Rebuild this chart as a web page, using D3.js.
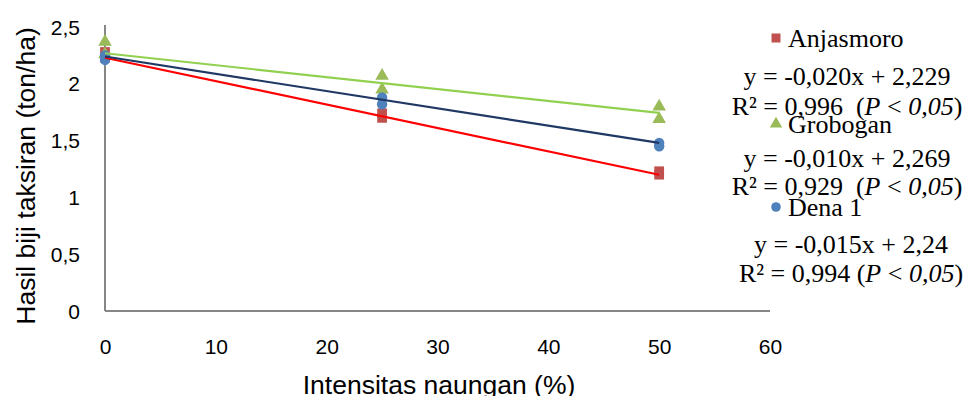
<!DOCTYPE html>
<html><head><meta charset="utf-8">
<script src="https://cdn.jsdelivr.net/npm/d3@7"></script>
<style>
body{margin:0;background:#fff;}
svg{display:block;}
text{white-space:pre;}
</style></head>
<body><svg id="c" width="970" height="396"></svg>
<script>
// ---- data ----
const seriesNames = ["Anjasmoro", "Grobogan", "Dena 1"];
const xAnjasmoro = [0, 0, 25, 25, 50, 50];
const yAnjasmoro = [2.28, 2.23, 1.74, 1.70, 1.23, 1.20];
const xGrobogan = [0, 0, 25, 25, 50, 50];
const yGrobogan = [2.37, 2.26, 2.07, 1.95, 1.80, 1.69];
const xDena = [0, 0, 25, 25, 50, 50];
const yDena = [2.25, 2.21, 1.88, 1.82, 1.48, 1.45];
// fitted trendlines (unrounded slopes as drawn; labels show rounded values)
const slopes = [-0.0206, -0.0105, -0.0152];
const intercepts = [2.229, 2.269, 2.24];
const eqLabels = ["y = -0,020x + 2,229", "y = -0,010x + 2,269", "y = -0,015x + 2,24"];
const r2Labels = ["0,996", "0,929", "0,994"];
const xTicks = [0, 10, 20, 30, 40, 50, 60];
const yTicks = [0, 0.5, 1, 1.5, 2, 2.5];
const trendRange = [0, 50];

// ---- layout ----
const svg = d3.select("#c");
const x = d3.scaleLinear().domain([0, 60]).range([105, 770]);
const y = d3.scaleLinear().domain([0, 2.5]).range([311, 27]);
const fmt = d => String(d).replace(".", ",");
const axisColor = "#868686";
const markerColors = ["#C0504D", "#9BBB59", "#4F81BD"];
const lineColors = ["#FF0000", "#92D050", "#1F3864"];
const symbols = [d3.symbolSquare, d3.symbolTriangle, d3.symbolCircle];
const symSizes = [95, 80, 85];
const sans = "Liberation Sans, Arial, sans-serif";

// axes
const xAxis = d3.axisBottom(x).tickValues(xTicks).tickSize(0).tickPadding(0).tickFormat(fmt);
const gx = svg.append("g").attr("transform", `translate(0,${y(0)})`).call(xAxis);
gx.select(".domain").attr("stroke", axisColor).attr("stroke-width", 2).attr("d", `M${x(0)},0H${x(60)}`);
gx.selectAll("text").attr("font-family", sans).attr("font-size", 21)
  .attr("fill", "#000").attr("y", 43).attr("dy", 0);

const yAxis = d3.axisLeft(y).tickValues(yTicks).tickSize(0).tickPadding(0).tickFormat(fmt);
const gy = svg.append("g").attr("transform", `translate(${x(0)},0)`).call(yAxis);
gy.select(".domain").attr("stroke", axisColor).attr("stroke-width", 2).attr("d", `M0,${y(0)}V${y(2.5) - 2}`);
gy.selectAll("text").attr("font-family", sans).attr("font-size", 21)
  .attr("fill", "#000").attr("x", -25).attr("dy", "0.34em");

// axis titles
svg.append("text").attr("x", 439).attr("y", 394).attr("text-anchor", "middle")
  .attr("font-family", sans).attr("font-size", 26.5).text("Intensitas naungan (%)");
svg.append("text").attr("transform", "translate(35,176) rotate(-90)").attr("text-anchor", "middle")
  .attr("font-family", sans).attr("font-size", 26.5).text("Hasil biji taksiran (ton/ha)");

// markers
const allX = [xAnjasmoro, xGrobogan, xDena];
const allY = [yAnjasmoro, yGrobogan, yDena];
seriesNames.forEach((name, i) => {
  const pts = allX[i].map((xv, j) => [xv, allY[i][j]]);
  svg.append("g").selectAll("path").data(pts).join("path")
    .attr("transform", d => `translate(${x(d[0])},${y(d[1])})`)
    .attr("d", d3.symbol().type(symbols[i]).size(symSizes[i]))
    .attr("fill", markerColors[i]);
});

// trendlines
const line = d3.line().x(d => x(d[0])).y(d => y(d[1]));
[0, 2, 1].forEach(i => {
  const pts = trendRange.map(t => [t, intercepts[i] + slopes[i] * t]);
  svg.append("path").attr("d", line(pts)).attr("fill", "none")
    .attr("stroke", lineColors[i]).attr("stroke-width", 2.2);
});

// legend entries and trendline labels
const legendY = [38, 124, 207];
const eqY = [85, 167, 253];
const r2Y = [115, 195, 282];
const labelCx = [847, 847, 851];
const serif = "Liberation Serif, Times New Roman, serif";
seriesNames.forEach((name, i) => {
  svg.append("path").attr("transform", `translate(776,${legendY[i]})`)
    .attr("d", d3.symbol().type(symbols[i]).size(symSizes[i] * 0.85)).attr("fill", markerColors[i]);
  svg.append("text").attr("x", 788).attr("y", legendY[i] + 9).attr("font-family", serif)
    .attr("font-size", 26).text(name);
  svg.append("text").attr("x", labelCx[i]).attr("y", eqY[i]).attr("text-anchor", "middle")
    .attr("font-family", serif).attr("font-size", 26).text(eqLabels[i]);
  const t = svg.append("text").attr("x", labelCx[i]).attr("y", r2Y[i]).attr("text-anchor", "middle")
    .attr("font-family", serif).attr("font-size", 26);
  const gap = i === 2 ? " " : "  ";
  t.append("tspan").text("R² = " + r2Labels[i] + gap + "(");
  t.append("tspan").attr("font-style", "italic").text("P");
  t.append("tspan").text(" < ");
  t.append("tspan").attr("font-style", "italic").text("0,05");
  t.append("tspan").text(")");
});
</script></body></html>
